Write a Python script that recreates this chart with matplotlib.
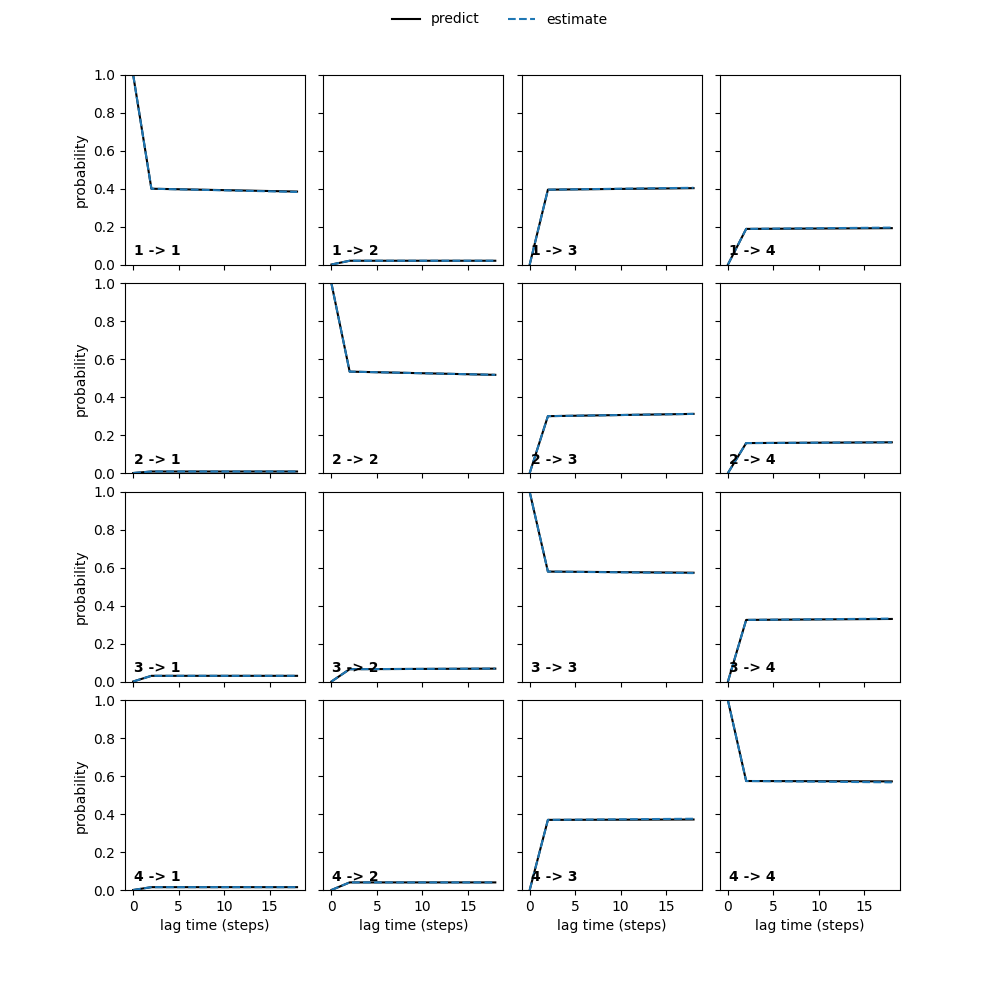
import matplotlib
matplotlib.use("Agg")
import matplotlib.pyplot as plt
import numpy as np

lags = [0, 2, 18]
n_states = 4

# predicted / estimated transition probabilities, row i -> column j, values at each lag
predict = np.array([
    [[1, 0.400, 0.385], [0, 0.020, 0.020], [0, 0.395, 0.403], [0, 0.188, 0.192]],
    [[0, 0.008, 0.008], [1, 0.535, 0.518], [0, 0.300, 0.312], [0, 0.158, 0.162]],
    [[0, 0.030, 0.030], [0, 0.065, 0.068], [1, 0.580, 0.574], [0, 0.325, 0.330]],
    [[0, 0.015, 0.015], [0, 0.040, 0.040], [0, 0.370, 0.372], [1, 0.575, 0.573]],
])
estimate = np.array([
    [[1, 0.400, 0.383], [0, 0.020, 0.020], [0, 0.395, 0.405], [0, 0.188, 0.195]],
    [[0, 0.008, 0.008], [1, 0.535, 0.518], [0, 0.300, 0.312], [0, 0.158, 0.162]],
    [[0, 0.030, 0.030], [0, 0.065, 0.068], [1, 0.580, 0.572], [0, 0.325, 0.332]],
    [[0, 0.015, 0.015], [0, 0.040, 0.040], [0, 0.370, 0.376], [1, 0.575, 0.568]],
])

fig, axes = plt.subplots(n_states, n_states, figsize=(10, 10), dpi=100,
                         sharex=True, sharey=True)
fig.subplots_adjust(left=0.125, right=0.9, top=0.925, bottom=0.11,
                    wspace=0.1, hspace=0.1)

for i in range(n_states):
    for j in range(n_states):
        ax = axes[i, j]
        ax.plot(lags, predict[i, j], color='black', label='predict')
        ax.plot(lags, estimate[i, j], color='tab:blue', linestyle='--', label='estimate')
        ax.text(0.05, 0.05, "{} -> {}".format(i + 1, j + 1), transform=ax.transAxes,
                fontweight='bold')
        ax.set_ylim(0, 1)
        if j == 0:
            ax.set_ylabel("probability")
        if i == n_states - 1:
            ax.set_xlabel("lag time (steps)")

handles, labels = axes[0, 0].get_legend_handles_labels()
fig.legend(handles, labels, loc='upper center', ncol=2, frameon=False)

fig.savefig("out.png")
